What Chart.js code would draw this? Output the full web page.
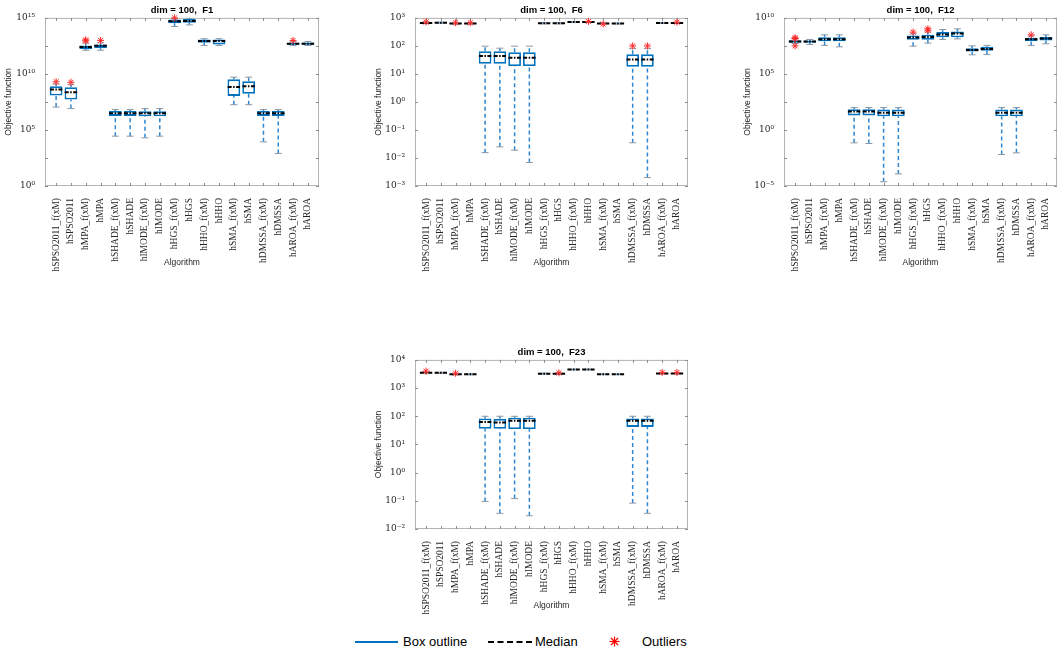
<!DOCTYPE html>
<html>
<head>
<meta charset="utf-8">
<title>dim = 100 box plots</title>
<script src="https://cdn.jsdelivr.net/npm/chart.js@4.4.1/dist/chart.umd.min.js"></script>
<style>
  body { margin: 0; background: #fff; width: 1063px; height: 653px; overflow: hidden; position: relative;
         font-family: 'Liberation Sans', Arial, sans-serif; }
  canvas { position: absolute; }
  .lg { position: absolute; font-size: 13px; line-height: 16px; top: 634px; color: #000; white-space: nowrap; }
  .ln { position: absolute; top: 641px; }
</style>
</head>
<body>
<canvas id="c1"></canvas>
<canvas id="c6"></canvas>
<canvas id="c12"></canvas>
<canvas id="c23"></canvas>

<div class="ln" style="left:355px; width:43px; height:2px; background:#0072BD;"></div>
<div class="lg" style="left:403px;">Box outline</div>
<div class="ln" style="left:488px; width:44px; height:0; border-top:2px dashed #000;"></div>
<div class="lg" style="left:535px;">Median</div>
<svg style="position:absolute; left:609px; top:636px;" width="11" height="11" viewBox="0 0 11 11">
  <g stroke="#ff0000" stroke-width="1.2">
    <line x1="0.5" y1="5.5" x2="10.5" y2="5.5"/><line x1="5.5" y1="0.5" x2="5.5" y2="10.5"/>
    <line x1="2" y1="2" x2="9" y2="9"/><line x1="9" y1="2" x2="2" y2="9"/>
  </g>
</svg>
<div class="lg" style="left:642px;">Outliers</div>

<script>
// Catégories (axe x)
const algorithms = ['hSPSO2011_f(xM)', 'hSPSO2011', 'hMPA_f(xM)', 'hMPA', 'hSHADE_f(xM)', 'hSHADE',
  'hIMODE_f(xM)', 'hIMODE', 'hHGS_f(xM)', 'hHGS', 'hHHO_f(xM)', 'hHHO', 'hSMA_f(xM)', 'hSMA',
  'hDMSSA_f(xM)', 'hDMSSA', 'hAROA_f(xM)', 'hAROA'];

// F1
const f1Lo  = [1.1e7, 8.1e6, 1.3e12, 1.3e12, 2.8e4, 2.8e4, 2.0e4, 2.8e4, 1.7e14, 2.4e14, 3.5e12, 3.5e12, 1.8e7, 1.8e7, 8.7e3, 8.1e2, 3.5e12, 3.5e12];
const f1Q1  = [1.2e8, 5.1e7, 1.7e12, 2.0e12, 1.8e6, 1.8e6, 1.7e6, 1.7e6, 3.4e14, 3.6e14, 6.0e12, 4.3e12, 1.1e8, 1.7e8, 1.8e6, 1.8e6, 4.0e12, 4.0e12];
const f1Med = [4.0e8, 2.3e8, 2.5e12, 3.2e12, 3.1e6, 3.1e6, 3.1e6, 3.1e6, 5.0e14, 5.4e14, 8.5e12, 8.5e12, 6.8e8, 7.8e8, 3.1e6, 3.1e6, 4.9e12, 4.9e12];
const f1Q3  = [7.8e8, 6.5e8, 3.5e12, 4.3e12, 5.0e6, 5.0e6, 4.7e6, 4.7e6, 7.1e14, 8.1e14, 1.2e13, 1.2e13, 3.3e9, 2.2e9, 5.0e6, 5.0e6, 6.0e12, 6.5e12];
const f1Hi  = [1.3e9, 1.1e9, 5.6e12, 6.0e12, 6.6e6, 6.6e6, 8.1e6, 8.1e6, 8.9e14, 1.0e15, 1.4e13, 1.4e13, 5.2e9, 5.2e9, 6.6e6, 6.6e6, 7.4e12, 7.9e12];
const f1Out = [[2.0e9], [1.8e9], [8.9e12, 1.1e13], [9.8e12], [], [], [], [], [1.0e15], [], [], [], [], [], [], [], [9.8e12], []];
const f1TickExp = [0, 2.5, 5, 7.5, 10, 12.5, 15];
const f1TickLabels = ['10⁰', '', '10⁵', '', '10¹⁰', '', '10¹⁵'];

// F6
const f6Lo  = [620, 640, 600, 600, 1.55e-2, 2.5e-2, 1.9e-2, 6.9e-3, 610, 610, 680, 680, 615, 600, 3.5e-2, 2.0e-3, 630, 630];
const f6Q1  = [645, 660, 620, 620, 23, 23, 19, 19, 630, 630, 695, 695, 622, 615, 18, 18, 645, 645];
const f6Med = [660, 675, 630, 630, 44, 44, 38, 38, 645, 645, 710, 710, 630, 630, 33, 33, 660, 660];
const f6Q3  = [675, 690, 645, 645, 65, 65, 60, 60, 660, 660, 725, 725, 645, 645, 50, 50, 675, 675];
const f6Hi  = [700, 710, 665, 665, 98, 83, 98, 98, 680, 680, 730, 730, 660, 660, 80, 80, 690, 690];
const f6Out = [[720], [], [670], [670], [], [], [], [], [], [], [], [745], [600], [], [100], [100], [], [705]];
const f6TickExp = [-3, -2, -1, 0, 1, 2, 3];
const f6TickLabels = ['10⁻³', '10⁻²', '10⁻¹', '10⁰', '10¹', '10²', '10³'];

// F12
const f12Lo  = [5.2e7, 4.3e7, 3.5e7, 2.6e7, 7.1e-2, 6.2e-2, 2.4e-5, 1.2e-4, 3.0e7, 5.6e7, 1.2e8, 1.35e8, 5.1e6, 5.5e6, 6.5e-3, 9.1e-3, 3.5e7, 4.9e7];
const f12Q1  = [6.0e7, 6.0e7, 8.3e7, 8.3e7, 20, 20, 17, 17, 1.1e8, 1.1e8, 1.9e8, 1.9e8, 1.0e7, 1.15e7, 17, 17, 8.9e7, 9.5e7];
const f12Med = [7.9e7, 7.9e7, 1.26e8, 1.26e8, 44, 44, 35, 35, 1.8e8, 2.0e8, 3.3e8, 4.1e8, 1.4e7, 1.7e7, 35, 35, 1.26e8, 1.45e8];
const f12Q3  = [1.0e8, 9.5e7, 1.9e8, 1.9e8, 71, 71, 66, 66, 2.7e8, 3.1e8, 5.4e8, 6.0e8, 2.0e7, 2.6e7, 66, 66, 1.66e8, 2.0e8];
const f12Hi  = [1.35e8, 1.2e8, 3.1e8, 3.1e8, 100, 100, 100, 100, 3.8e8, 5.4e8, 9.1e8, 1.05e9, 3.2e7, 3.5e7, 100, 100, 2.5e8, 3.1e8];
const f12Out = [[1.7e8, 1.45e8, 3.2e7], [], [], [], [], [], [], [], [5.4e8], [1.05e9, 7.9e8], [], [], [], [], [], [], [3.1e8], []];
const f12TickExp = [-5, -2.5, 0, 2.5, 5, 7.5, 10];
const f12TickLabels = ['10⁻⁵', '', '10⁰', '', '10⁵', '', '10¹⁰'];

// F23
const f23Lo  = [3250, 3300, 2950, 2950, 9.5e-2, 3.6e-2, 0.12, 2.95e-2, 3100, 3100, 4400, 4400, 2980, 2980, 8.3e-2, 3.6e-2, 3150, 3150];
const f23Q1  = [3400, 3420, 3030, 3030, 36, 36, 35, 35, 3180, 3180, 4500, 4500, 3040, 3040, 42, 42, 3250, 3250];
const f23Med = [3470, 3470, 3090, 3090, 63, 60, 69, 69, 3240, 3240, 4570, 4570, 3090, 3090, 69, 69, 3310, 3310];
const f23Q3  = [3550, 3530, 3150, 3150, 83, 81, 89, 89, 3300, 3300, 4650, 4650, 3140, 3140, 83, 83, 3380, 3380];
const f23Hi  = [3700, 3650, 3250, 3250, 100, 100, 100, 100, 3400, 3400, 4750, 4750, 3200, 3200, 100, 100, 3480, 3480];
const f23Out = [[4000], [], [3350], [], [], [], [], [], [], [3480], [], [], [], [], [], [], [3600], [3600]];
const f23TickExp = [-2, -1, 0, 1, 2, 3, 4];
const f23TickLabels = ['10⁻²', '10⁻¹', '10⁰', '10¹', '10²', '10³', '10⁴'];

Chart.defaults.font.family = "'Liberation Sans', Arial, sans-serif";
Chart.defaults.color = '#262626';
Chart.defaults.animation = false;

// Cadre des axes + petites graduations vers l'intérieur
const framePlugin = {
    id: 'frame',
    beforeDatasetsDraw(chart) {
        const { ctx, chartArea: a, scales: { x, y } } = chart;
        ctx.save();
        ctx.lineWidth = 1;
        ctx.strokeStyle = '#b4b4b4';
        ctx.strokeRect(a.left + 0.5, a.top + 0.5, a.right - a.left - 1, a.bottom - a.top - 1);
        ctx.strokeStyle = '#8c8c8c';
        ctx.beginPath();
        x.ticks.forEach(t => {
            const px = Math.round(x.getPixelForValue(t.value)) + 0.5;
            ctx.moveTo(px, a.bottom); ctx.lineTo(px, a.bottom - 3);
            ctx.moveTo(px, a.top); ctx.lineTo(px, a.top + 3);
        });
        y.ticks.forEach(t => {
            const py = Math.round(y.getPixelForValue(t.value)) + 0.5;
            ctx.moveTo(a.left, py); ctx.lineTo(a.left + 3, py);
            ctx.moveTo(a.right, py); ctx.lineTo(a.right - 3, py);
        });
        ctx.stroke();
        ctx.restore();
    }
};

function boxDatasets(lo, q1, med, q3, hi, out) {
    const whiskers = [];
    const medians = [];
    lo.forEach((v, i) => {
        whiskers.push({ x: i, y: v }, { x: i, y: q1[i] }, { x: i, y: null });
        whiskers.push({ x: i, y: q3[i] }, { x: i, y: hi[i] }, { x: i, y: null });
        medians.push({ x: i - 0.42, y: med[i] }, { x: i + 0.42, y: med[i] }, { x: i, y: null });
    });
    const caps = lo.flatMap((v, i) => [{ x: i, y: v }, { x: i, y: hi[i] }]);
    const outliers = out.flatMap((list, i) => list.map(v => ({ x: i, y: v })));

    return [
        { type: 'scatter', data: outliers, pointStyle: 'star', pointRadius: 3.5,
          borderColor: '#ff2a2a', borderWidth: 1, clip: false },
        { type: 'line', data: medians, borderColor: '#000000', borderWidth: 2,
          borderDash: [4, 1.5, 1.5, 1.5], pointRadius: 0, spanGaps: false },
        { type: 'bar', data: q1.map((v, i) => ({ x: i, y: [v, q3[i]] })),
          backgroundColor: '#ffffff', borderColor: '#0072BD', borderWidth: 1.8,
          borderSkipped: false, barPercentage: 0.86, categoryPercentage: 1 },
        { type: 'scatter', data: caps, pointStyle: 'line', pointRadius: 3.5,
          borderColor: '#8b98a6', borderWidth: 1 },
        { type: 'line', data: whiskers, borderColor: '#2d86cf', borderWidth: 1.5,
          borderDash: [4, 3], pointRadius: 0, spanGaps: false }
    ];
}

function makePanel(p) {
    const canvas = document.getElementById(p.id);
    canvas.width = p.width;
    canvas.height = p.height;
    canvas.style.left = p.left + 'px';
    canvas.style.top = p.top + 'px';
    canvas.style.width = p.width + 'px';
    canvas.style.height = p.height + 'px';

    new Chart(canvas, {
        type: 'bar',
        data: { datasets: boxDatasets(p.lo, p.q1, p.med, p.q3, p.hi, p.out) },
        options: {
            responsive: false,
            devicePixelRatio: 1,
            events: [],
            layout: { padding: { top: 0, left: 0, bottom: 0, right: p.padRight } },
            plugins: {
                legend: { display: false },
                tooltip: { enabled: false },
                title: {
                    display: true, text: p.title, fullSize: false, color: '#000',
                    font: { size: 9.5, weight: 'bold' }, padding: { top: 4.5, bottom: 2 }
                }
            },
            scales: {
                x: {
                    type: 'linear', min: -0.75, max: 17.75, offset: false,
                    grid: { display: false }, border: { display: false },
                    afterBuildTicks: s => { s.ticks = algorithms.map((a, i) => ({ value: i })); },
                    afterFit: s => { s.height = 89; },
                    ticks: {
                        autoSkip: false, minRotation: 90, maxRotation: 90, padding: 4,
                        font: { family: "'Liberation Serif', 'Times New Roman', serif", size: 9.5 },
                        callback: (v, i) => algorithms[i]
                    },
                    title: { display: true, text: 'Algorithm', font: { size: 8.5 }, padding: { top: 0, bottom: 7 } }
                },
                y: {
                    type: 'logarithmic',
                    min: 10 ** p.exps[0], max: 10 ** p.exps[p.exps.length - 1],
                    grid: { display: false }, border: { display: false },
                    afterBuildTicks: s => { s.ticks = p.exps.map(e => ({ value: 10 ** e })); },
                    afterFit: s => { s.width = 45; },
                    ticks: {
                        padding: 2,
                        font: { family: "'DejaVu Serif', 'Liberation Serif', serif", size: 9 },
                        callback: (v, i) => p.labels[i]
                    },
                    title: { display: true, text: 'Objective function', font: { size: 8.5 }, padding: { top: 4, bottom: 0 } }
                }
            }
        },
        plugins: [framePlugin]
    });
}

makePanel({ id: 'c1', title: 'dim = 100,  F1', lo: f1Lo, q1: f1Q1, med: f1Med, q3: f1Q3, hi: f1Hi, out: f1Out,
            exps: f1TickExp, labels: f1TickLabels, left: 0, top: 0, width: 330, height: 275, padRight: 11 });
makePanel({ id: 'c6', title: 'dim = 100,  F6', lo: f6Lo, q1: f6Q1, med: f6Med, q3: f6Q3, hi: f6Hi, out: f6Out,
            exps: f6TickExp, labels: f6TickLabels, left: 370, top: 0, width: 330, height: 275, padRight: 12 });
makePanel({ id: 'c12', title: 'dim = 100,  F12', lo: f12Lo, q1: f12Q1, med: f12Med, q3: f12Q3, hi: f12Hi, out: f12Out,
            exps: f12TickExp, labels: f12TickLabels, left: 739, top: 0, width: 324, height: 275, padRight: 6 });
makePanel({ id: 'c23', title: 'dim = 100,  F23', lo: f23Lo, q1: f23Q1, med: f23Med, q3: f23Q3, hi: f23Hi, out: f23Out,
            exps: f23TickExp, labels: f23TickLabels, left: 370, top: 342, width: 330, height: 276, padRight: 12 });
</script>
</body>
</html>
